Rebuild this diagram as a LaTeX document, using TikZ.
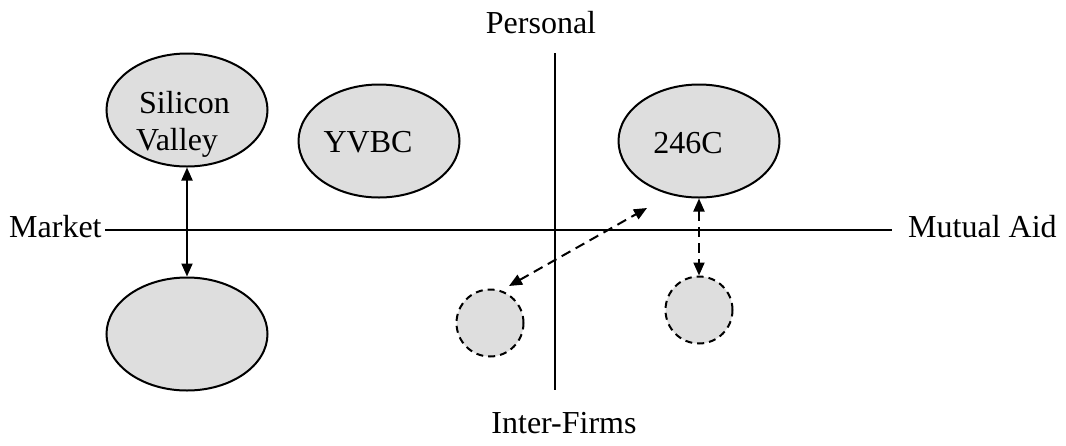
\documentclass[tikz,border=0pt]{standalone}
\usepackage{fontspec}
\setmainfont{Liberation Serif}
\usetikzlibrary{shapes.geometric,arrows.meta}
\definecolor{blobfill}{HTML}{DEDEDE}
\begin{document}
\begin{tikzpicture}[x=1pt,y=-1pt,
  blob/.style={draw=black,line width=2pt,fill=blobfill,ellipse,inner sep=0pt,minimum width=161pt,minimum height=113pt},
  ghost/.style={draw=black,line width=2pt,fill=blobfill,circle,dash pattern=on 7pt off 5pt,inner sep=0pt,minimum size=67pt},
  axis/.style={line width=2pt},
  lbl/.style={font=\fontsize{32}{37}\selectfont,inner sep=0pt},
  link/.style={line width=2pt,{Triangle[length=13pt,width=11pt]}-{Triangle[length=13pt,width=11pt]}},
  dlink/.style={link,dash pattern=on 10pt off 6pt}]
\useasboundingbox (0,0) rectangle (1066,445);
% axes
\coordinate (hl) at (105,230);
\coordinate (hr) at (892,230);
\coordinate (vt) at (555,53);
\coordinate (vb) at (555,390);
\draw[axis] (hl) -- (hr);
\draw[axis] (vt) -- (vb);
% axis labels
\node[lbl,anchor=base] (personal) at (541,33) {Personal};
\node[lbl,anchor=base] (interfirms) at (564,433) {Inter-Firms};
\node[lbl,anchor=base west] (market) at (9,237) {Market};
\node[lbl,anchor=base west] (mutual) at (908,237) {Mutual Aid};
% blobs
\node[blob] (sv) at (187,110) {};
\node[blob] (bl) at (187,334) {};
\node[blob] (yvbc) at (379,141) {};
\node[blob] (c246) at (699,141) {};
\node[ghost] (gl) at (490,323) {};
\node[ghost] (gr) at (699,310) {};
% blob texts
\node[lbl,anchor=base west] (svt1) at (139,113) {Silicon};
\node[lbl,anchor=base west] (svt2) at (136,150) {Valley};
\node[lbl,anchor=base] (yvbct) at (368,152) {YVBC};
\node[lbl,anchor=base] (c246t) at (688,153) {246C};
% connectors
\draw[link] (sv.south) -- (bl.north);
\draw[dlink] (c246.south) -- (gr.north);
\coordinate (da) at (647,208);
\coordinate (db) at (509,286);
\draw[dlink] (db) -- (da);
\end{tikzpicture}
\end{document}
